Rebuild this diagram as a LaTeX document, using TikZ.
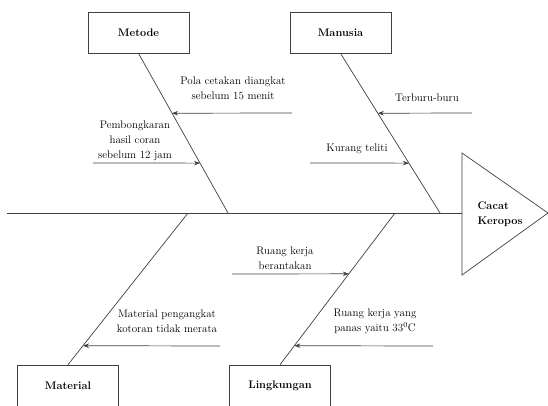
\documentclass[tikz,border=0pt]{standalone}
\usetikzlibrary{arrows.meta, positioning, calc}

\begin{document}
\begin{tikzpicture}[>=Stealth, x=1pt, y=-1pt]
\useasboundingbox (0,0) rectangle (548,405);

% --- Style Definitions ---
% Category boxes
\tikzstyle{cat_box}=[rectangle, draw=black!75, line width=0.7pt, fill=white, minimum width=101pt, minimum height=41pt, font=\fontsize{11}{14}\selectfont\bfseries]
% Bones of the fish
\tikzstyle{bone_line}=[black!75, line width=0.7pt]
% Cause arrows
\tikzstyle{cause_arrow}=[-{Stealth[length=6pt, width=4.5pt]}, black!75, line width=0.7pt]
\tikzstyle{cause_text}=[align=center, inner sep=0pt, font=\fontsize{11}{15}\selectfont]

% --- Define Nodes ---

% Category boxes
\node[cat_box] (Metode) at (138.5,32.5) {Metode};
\node[cat_box] (Manusia) at (340.5,32.5) {Manusia};
\node[cat_box] (Material) at (68,385.5) {Material};
\node[cat_box] (Lingkungan) at (280,385.5) {Lingkungan};

% Spine and head
\coordinate (Tail) at (7,213);
\coordinate (Head) at (462,213);
\coordinate (HeadTop) at (462,153);
\coordinate (HeadTip) at (548,213);
\coordinate (HeadBot) at (462,275);
\node[anchor=west, align=left, font=\fontsize{11}{15}\selectfont\bfseries] (Effect) at (474,214) {Cacat\\Keropos};

% Joints on the spine
\coordinate (MetodeJoint) at (228,213);
\coordinate (ManusiaJoint) at (440,213);
\coordinate (MaterialJoint) at (188,213);
\coordinate (LingkunganJoint) at (395,213);

% Arrow tips on the bones
\coordinate (PolaTip) at ($(Metode.south)!0.375!(MetodeJoint)$);
\coordinate (BongkarTip) at ($(Metode.south)!0.6875!(MetodeJoint)$);
\coordinate (BuruTip) at ($(Manusia.south)!0.375!(ManusiaJoint)$);
\coordinate (TelitiTip) at ($(Manusia.south)!0.6875!(ManusiaJoint)$);
\coordinate (KotoranTip) at ($(MaterialJoint)!0.875!(Material.north)$);
\coordinate (BerantakanTip) at ($(LingkunganJoint)!0.401!(Lingkungan.north)$);
\coordinate (PanasTip) at ($(LingkunganJoint)!0.875!(Lingkungan.north)$);

% Free ends of the arrows
\coordinate (PolaStart) at (292,113);
\coordinate (BongkarStart) at (93,163);
\coordinate (BuruStart) at (472,113);
\coordinate (TelitiStart) at (310,163);
\coordinate (KotoranStart) at (220,346);
\coordinate (BerantakanStart) at (232,274);
\coordinate (PanasStart) at (433,346);

% Cause labels
\node[cause_text] (Pola) at (233,88) {Pola cetakan diangkat\\sebelum 15 menit};
\node[cause_text] (Bongkar) at (135,141) {Pembongkaran\\hasil coran\\sebelum 12 jam};
\node[cause_text] (Buru) at (427,98) {Terburu-buru};
\node[cause_text] (Teliti) at (357,149) {Kurang teliti};
\node[cause_text] (Kotoran) at (167,321) {Material pengangkat\\kotoran tidak merata};
\node[cause_text] (Berantakan) at (285,258) {Ruang kerja\\berantakan};
\node[cause_text] (Panas) at (375,321) {Ruang kerja yang\\panas yaitu 33\textsuperscript{0}C};

% --- Draw Connections ---

% 1. Spine and head
\draw[bone_line] (Tail) -- (Head);
\draw[bone_line] (HeadTop) -- (HeadTip) -- (HeadBot) -- cycle;

% 2. Bones
\draw[bone_line] (Metode.south) -- (MetodeJoint);
\draw[bone_line] (Manusia.south) -- (ManusiaJoint);
\draw[bone_line] (Material.north) -- (MaterialJoint);
\draw[bone_line] (Lingkungan.north) -- (LingkunganJoint);

% 3. Causes
\draw[cause_arrow] (PolaStart) -- (PolaTip);
\draw[cause_arrow] (BongkarStart) -- (BongkarTip);
\draw[cause_arrow] (BuruStart) -- (BuruTip);
\draw[cause_arrow] (TelitiStart) -- (TelitiTip);
\draw[cause_arrow] (KotoranStart) -- (KotoranTip);
\draw[cause_arrow] (BerantakanStart) -- (BerantakanTip);
\draw[cause_arrow] (PanasStart) -- (PanasTip);

\end{tikzpicture}
\end{document}
